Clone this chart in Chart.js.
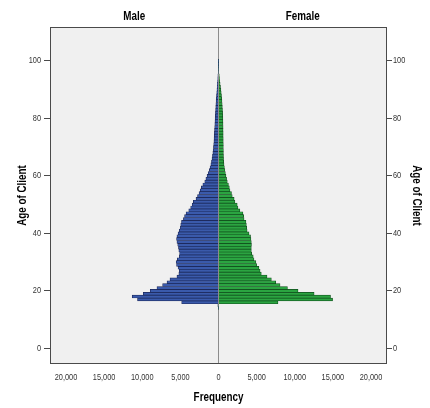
<!DOCTYPE html>
<html>
<head>
<meta charset="utf-8">
<script src="https://cdn.jsdelivr.net/npm/chart.js@4.4.1/dist/chart.umd.min.js"></script>
<style>
  html, body { margin: 0; padding: 0; background: #fff; }
  #wrap { width: 430px; height: 408px; }
</style>
</head>
<body>
<div id="wrap"><canvas id="pyramid"></canvas></div>
<script>
// ages 14..100, one bar per year
const ages = [14, 15, 16, 17, 18, 19, 20, 21, 22, 23, 24, 25, 26, 27, 28, 29,
  30, 31, 32, 33, 34, 35, 36, 37, 38, 39, 40, 41, 42, 43, 44, 45, 46, 47, 48, 49,
  50, 51, 52, 53, 54, 55, 56, 57, 58, 59, 60, 61, 62, 63, 64, 65, 66, 67, 68, 69,
  70, 71, 72, 73, 74, 75, 76, 77, 78, 79, 80, 81, 82, 83, 84, 85, 86, 87, 88, 89,
  90, 91, 92, 93, 94, 95, 96, 97, 98, 99, 100];

const maleCounts = [30, 80, 4830, 10620, 11320, 9870, 8950, 8070, 7330, 6750, 6360, 5450, 5200, 5150, 5300, 5500,
  5550, 5400, 5150, 5100, 5200, 5250, 5350, 5450, 5500, 5450, 5300, 5150, 5000, 4950, 4850, 4600, 4450, 4250, 3900, 3650,
  3450, 3300, 2950, 2750, 2550, 2400, 2250, 2050, 1800, 1650, 1500, 1350, 1200, 1100, 1000, 920, 850, 790, 740, 700,
  660, 630, 600, 580, 560, 540, 520, 500, 480, 460, 440, 420, 400, 380, 360, 340, 310, 290, 260, 230,
  200, 170, 140, 110, 90, 70, 50, 35, 20, 10, 5];

const femaleCounts = [20, 60, 7800, 14960, 14690, 12540, 10430, 9040, 8070, 7500, 6930, 6360, 5610, 5450, 5300, 5000,
  4900, 4650, 4550, 4350, 4300, 4300, 4320, 4300, 4250, 4200, 4000, 3750, 3700, 3650, 3600, 3350, 3300, 3200, 2800, 2550,
  2450, 2150, 2050, 1800, 1700, 1500, 1420, 1300, 1150, 1060, 980, 900, 830, 770, 720, 680, 660, 650, 640, 640,
  630, 630, 620, 620, 610, 610, 600, 600, 590, 580, 570, 560, 540, 520, 500, 480, 450, 420, 390, 350,
  310, 260, 210, 160, 120, 90, 60, 40, 25, 12, 6];

const sideLabels = ['Male', 'Female'];
const ageTicks = [0, 20, 40, 60, 80, 100];
const freqTicks = [-20000, -15000, -10000, -5000, 0, 5000, 10000, 15000, 20000];

const FONT = "'Liberation Sans', Arial, sans-serif";
const tickFont = { family: FONT, size: 9 };
const titleFont = { family: FONT, size: 12, weight: 'bold', lineHeight: 1.2 };

const canvas = document.getElementById('pyramid');
const ctx2d = canvas.getContext('2d');

/* the original uses a condensed face; squeeze every text run horizontally
   around its anchor so widths match (no narrow font installed) */
const rawFillText = ctx2d.fillText.bind(ctx2d);
ctx2d.fillText = function (text, x, y, maxWidth) {
  this.save();
  this.translate(x, y);
  this.scale(0.82, 1);
  if (maxWidth !== undefined) rawFillText(text, 0, 0, maxWidth / 0.82);
  else rawFillText(text, 0, 0);
  this.restore();
};

/* plot frame, grey panel and Male / Female headers */
const panelPlugin = {
  id: 'panel',
  beforeDraw(chart) {
    const { ctx, chartArea: a } = chart;
    ctx.save();
    ctx.fillStyle = '#f0f0f0';
    ctx.fillRect(a.left, a.top, a.right - a.left, a.bottom - a.top);
    ctx.restore();
  },
  afterDraw(chart) {
    const { ctx, chartArea: a } = chart;
    const zero = chart.scales.x.getPixelForValue(0);
    ctx.save();
    ctx.strokeStyle = '#4a4a4a';
    ctx.lineWidth = 1;
    ctx.strokeRect(a.left + 0.5, a.top + 0.5, a.right - a.left - 1, a.bottom - a.top - 1);
    ctx.fillStyle = '#000';
    ctx.font = 'bold 12px ' + FONT;
    ctx.textAlign = 'center';
    ctx.textBaseline = 'alphabetic';
    ctx.fillText(sideLabels[0], (a.left + zero) / 2, 20);
    ctx.fillText(sideLabels[1], (zero + a.right) / 2, 20);
    ctx.restore();
  }
};

const setAgeTicks = s => { s.ticks = ageTicks.map(v => ({ value: v })); };

new Chart(canvas, {
  type: 'bar',
  data: {
    datasets: [
      {
        label: sideLabels[0],
        data: ages.map((a, i) => ({ x: -maleCounts[i], y: a })),
        backgroundColor: '#3a5aab',
        borderColor: '#1b2656',
        borderWidth: 0.7,
        grouped: false
      },
      {
        label: sideLabels[1],
        data: ages.map((a, i) => ({ x: femaleCounts[i], y: a })),
        backgroundColor: '#2ba441',
        borderColor: '#114d1c',
        borderWidth: 0.7,
        grouped: false
      }
    ]
  },
  options: {
    indexAxis: 'y',
    responsive: true,
    maintainAspectRatio: false,
    animation: false,
    barPercentage: 1,
    categoryPercentage: 1,
    layout: { padding: { top: 27, left: 0, right: 0, bottom: 0 } },
    plugins: { legend: { display: false }, tooltip: { enabled: false } },
    scales: {
      x: {
        type: 'linear',
        min: -22100,
        max: 22100,
        afterBuildTicks: s => { s.ticks = freqTicks.map(v => ({ value: v })); },
        afterFit: s => { s.height = 44; },
        grid: {
          drawTicks: false,
          lineWidth: 1,
          color: c => (c.tick && c.tick.value === 0) ? '#8c8c8c' : 'rgba(0,0,0,0)'
        },
        border: { display: false },
        ticks: {
          font: tickFont,
          color: '#333',
          padding: 8,
          maxRotation: 0,
          callback: v => Math.abs(v).toLocaleString('en-US')
        },
        title: {
          display: true,
          text: 'Frequency',
          font: titleFont,
          color: '#000',
          padding: { top: 0, bottom: 3 }
        }
      },
      y: {
        type: 'linear',
        position: 'left',
        min: -5.45,
        max: 111.75,
        offset: false,
        afterBuildTicks: setAgeTicks,
        afterFit: s => { s.width = 50; },
        grid: { offset: false, drawOnChartArea: false, drawTicks: true, tickLength: 6, color: '#4a4a4a' },
        border: { display: false },
        ticks: { font: tickFont, color: '#333', padding: 3 },
        title: {
          display: true,
          text: 'Age of Client',
          font: titleFont,
          color: '#000',
          padding: { top: 15, bottom: 0 }
        }
      },
      yRight: {
        axis: 'y',
        type: 'linear',
        position: 'right',
        min: -5.45,
        max: 111.75,
        offset: false,
        afterBuildTicks: setAgeTicks,
        afterFit: s => { s.width = 43; },
        grid: { offset: false, drawOnChartArea: false, drawTicks: true, tickLength: 5, color: '#4a4a4a' },
        border: { display: false },
        ticks: { font: tickFont, color: '#333', padding: 1 },
        title: {
          display: true,
          text: 'Age of Client',
          font: titleFont,
          color: '#000',
          padding: { top: 6, bottom: 0 }
        }
      }
    }
  },
  plugins: [panelPlugin]
});
</script>
</body>
</html>
